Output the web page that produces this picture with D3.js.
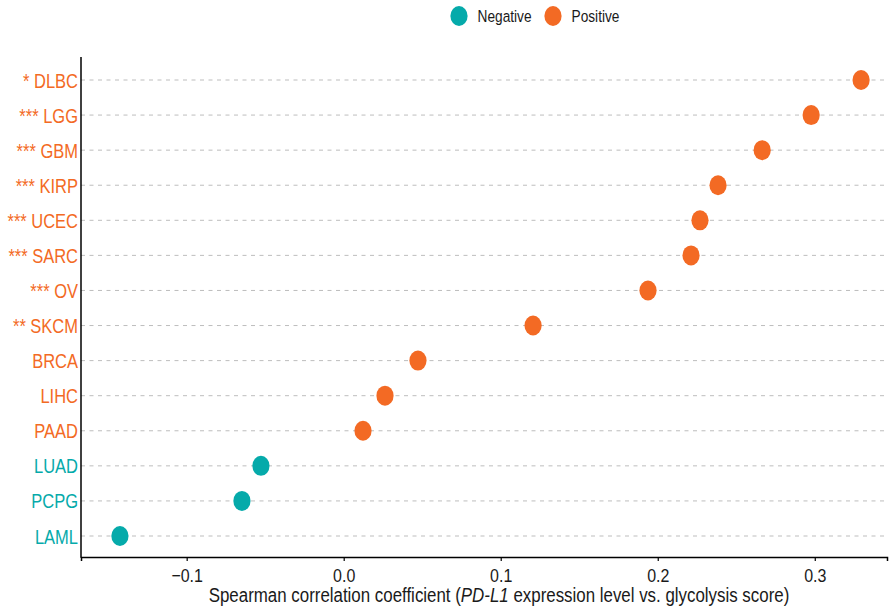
<!DOCTYPE html>
<html><head><meta charset="utf-8">
<script src="https://cdn.jsdelivr.net/npm/d3@7"></script>
<style>body{margin:0;background:#fff}text{font-family:"Liberation Sans",Arial,sans-serif}</style>
</head><body>
<svg id="c" width="889" height="615"></svg>
<script>
const categories = ["DLBC","LGG","GBM","KIRP","UCEC","SARC","OV","SKCM","BRCA","LIHC","PAAD","LUAD","PCPG","LAML"];
const stars = ["*","***","***","***","***","***","***","**","","","","","",""];
const values = [0.3295,0.2977,0.2665,0.2384,0.2269,0.2212,0.1938,0.1206,0.0473,0.0263,0.0123,-0.0527,-0.0648,-0.1425];
const xTicks = [-0.1,0.0,0.1,0.2,0.3];
const legendLabels = ["Negative","Positive"];
const colors = {Negative:"#05AAAA", Positive:"#F36A24"};

const SY = 1.17; // vertical stretch of text, as in the reference
const svg = d3.select("#c");
const L=81, R=887, T=59, B=557;
const x = d3.scaleLinear().domain([-0.1673,0.346]).range([L,R]);
const y = d3.scalePoint().domain(categories).range([80,536]);
const sign = v => v<0 ? "Negative" : "Positive";

// gridlines
svg.append("g").selectAll("line").data(categories).join("line")
  .attr("x1",L).attr("x2",R).attr("y1",d=>y(d)).attr("y2",d=>y(d))
  .attr("stroke","#bdbdbd").attr("stroke-width",1).attr("stroke-dasharray","4,4.5");

// axes
const xa = svg.append("g").attr("transform",`translate(0,${B})`)
  .call(d3.axisBottom(x).tickValues(xTicks).tickSize(4)
    .tickFormat(d=> d===0 ? "0.0" : (d<0 ? "\u2212"+Math.abs(d).toFixed(1) : d.toFixed(1))));
xa.select(".domain").attr("stroke","#000").attr("stroke-width",1.5);
xa.selectAll(".tick line").attr("stroke","#000").attr("stroke-width",1.2);
xa.selectAll(".tick text").attr("y",0).attr("dy",null)
  .attr("transform",`translate(0,24.5) scale(1,${SY})`)
  .attr("font-size",16).attr("fill","#1a1a1a").attr("font-family","'Liberation Sans',Arial,sans-serif");
svg.append("line").attr("x1",L).attr("x2",L).attr("y1",T-2).attr("y2",B+0.75).attr("stroke","#000").attr("stroke-width",1.5);

// y labels
const yl = svg.append("g").selectAll("text").data(categories).join("text")
  .attr("transform",d=>`translate(${L-3},${y(d)+7.5}) scale(1,${SY})`)
  .attr("text-anchor","end").attr("font-size",16.5)
  .attr("fill",(d,i)=>colors[sign(values[i])])
  .text((d,i)=> stars[i] ? stars[i]+" "+d : d);

// points
svg.append("g").selectAll("ellipse").data(categories).join("ellipse")
  .attr("cx",(d,i)=>x(values[i])).attr("cy",d=>y(d)).attr("rx",8.6).attr("ry",10)
  .attr("fill",(d,i)=>colors[sign(values[i])]);

// axis title
const tt = svg.append("text").attr("transform",`translate(499,602) scale(1,${SY})`)
  .attr("text-anchor","middle").attr("font-size",16.9).attr("fill","#1a1a1a");
tt.append("tspan").text("Spearman correlation coefficient (");
tt.append("tspan").attr("font-style","italic").text("PD-L1");
tt.append("tspan").text(" expression level vs. glycolysis score)");

// legend
const lg = svg.append("g");
const lx = [459,553];
legendLabels.forEach((k,i)=>{
  lg.append("ellipse").attr("cx",lx[i]).attr("cy",16).attr("rx",8.6).attr("ry",10).attr("fill",colors[k]);
  lg.append("text").attr("transform",`translate(${lx[i]+18.5},21.7) scale(1,${SY})`)
    .attr("font-size",13.7).attr("fill","#1a1a1a").text(k);
});
</script>
</body></html>
